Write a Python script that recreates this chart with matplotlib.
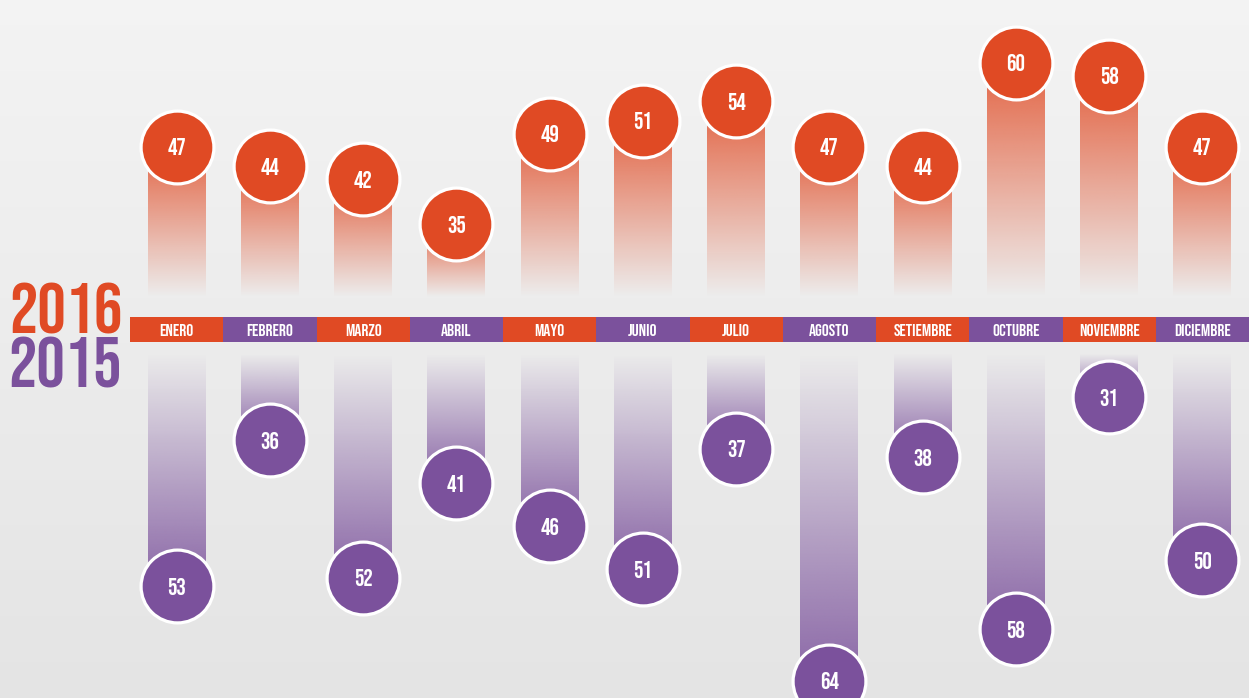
import numpy as np
import matplotlib
matplotlib.use("Agg")
import matplotlib.pyplot as plt
from matplotlib import font_manager

meses = ["ENERO", "FEBRERO", "MARZO", "ABRIL", "MAYO", "JUNIO",
         "JULIO", "AGOSTO", "SETIEMBRE", "OCTUBRE", "NOVIEMBRE", "DICIEMBRE"]
v2016 = [47, 44, 42, 35, 49, 51, 54, 47, 44, 60, 58, 47]
v2015 = [53, 36, 52, 41, 46, 51, 37, 64, 38, 58, 31, 50]

naranja = "#E04A24"
morado = "#7B519C"

# fuente condensada tipo Bebas
nombres = {f.name for f in font_manager.fontManager.ttflist}
prefs = ["Bebas Neue", "Oswald", "League Gothic", "Fjalla One", "Roboto Condensed"]
hay = [p for p in prefs if p in nombres]
fam = hay[0] if hay else "DejaVu Sans"

W, H = 1249, 698
fig = plt.figure(figsize=(W / 100, H / 100), dpi=100)

# fondo degradado
bg = fig.add_axes([0, 0, 1, 1], zorder=-10)
g = np.linspace(0.955, 0.895, 256)[:, None]
bg.imshow(np.dstack([g, g, g]), aspect="auto", extent=[0, 1, 0, 1])
bg.set_axis_off()

x0 = 130 / W
aw = (W - 130) / W
top = fig.add_axes([x0, (H - 317) / H, aw, 317 / H])
bot = fig.add_axes([x0, 0, aw, (H - 342) / H])
band = fig.add_axes([x0, (H - 342) / H, aw, 25 / H])

def barra(ax, i, base, v, color, a_max=0.85):
    rgb = matplotlib.colors.to_rgb(color)
    t = np.linspace(0, 1, 200)[:, None]  # 0 en base, 1 en circulo
    img = np.zeros((200, 1, 4))
    img[..., :3] = rgb
    img[..., 3] = a_max * t
    ax.imshow(img, aspect="auto", origin="lower",
              extent=[i - 0.31, i + 0.31, base, v], interpolation="bilinear", zorder=1)

x = np.arange(12)
for i in x:
    barra(top, i, 23.7, v2016[i], naranja)
    barra(bot, i, 26.0, v2015[i], morado)

top.scatter(x, v2016, s=2750, color=naranja, edgecolor="white", linewidth=2.3,
            zorder=3, clip_on=False)
bot.scatter(x, v2015, s=2750, color=morado, edgecolor="white", linewidth=2.3,
            zorder=3, clip_on=False)

for i in x:
    top.text(i, v2016[i], str(v2016[i]), color="white", ha="center", va="center",
             fontsize=17, family=fam, zorder=4)
    bot.text(i, v2015[i], str(v2015[i]), color="white", ha="center", va="center",
             fontsize=17, family=fam, zorder=4)

top.set_xlim(-0.5, 11.5)
top.set_ylim(20.65, 69.7)
bot.set_xlim(-0.5, 11.5)
bot.set_ylim(66.0, 24.6)
for ax in (top, bot):
    ax.set_axis_off()

colores = [naranja if i % 2 == 0 else morado for i in x]
band.bar(x, 1, width=1.0, bottom=0, color=colores)
for i in x:
    band.text(i, 0.5, meses[i], color="white", ha="center", va="center",
              fontsize=12.5, family=fam)
band.set_xlim(-0.5, 11.5)
band.set_ylim(0, 1)
band.set_axis_off()

fig.text(122 / W, 1 - 333 / H, "2016", color=naranja, ha="right", va="baseline",
         fontsize=51, family=fam)
fig.text(122 / W, 1 - 388 / H, "2015", color=morado, ha="right", va="baseline",
         fontsize=51, family=fam)

fig.savefig("out.png", dpi=100)
